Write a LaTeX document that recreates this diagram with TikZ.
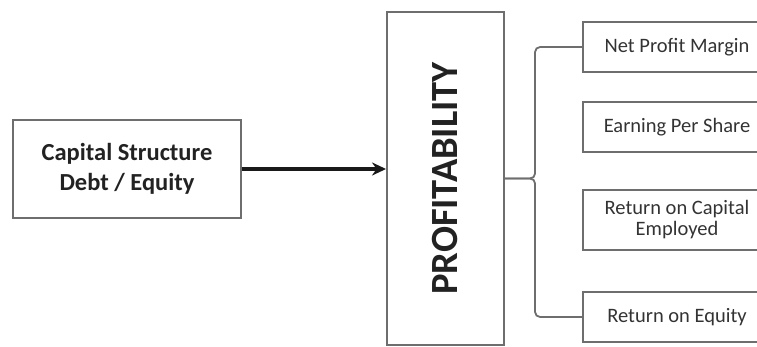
\documentclass[tikz,border=0pt]{standalone}
\usepackage{fontspec}
\setmainfont{Carlito}
\usetikzlibrary{arrows.meta}
\definecolor{frame}{HTML}{6E6E6E}
\definecolor{ink}{HTML}{222222}
\definecolor{soft}{HTML}{333333}
\tikzset{
  box/.style={draw=frame, line width=1.9pt, align=center, text=ink, inner sep=0pt},
  ratio/.style={box, minimum width=188pt, minimum height=50pt, text=soft, font=\fontsize{20.5}{21}\selectfont},
  brace/.style={draw=frame, line width=1.8pt, rounded corners=5pt},
}

\begin{document}
\begin{tikzpicture}[x=1pt, y=-1pt]
\clip (0,0) rectangle (757,347);
% driver
\node[box, minimum width=228pt, minimum height=98pt, font=\bfseries\fontsize{24.5}{30}\selectfont] (cap) at (127,169) {Capital Structure\\Debt / Equity};
% outcome
\node[box, minimum width=117pt, minimum height=333pt] (prof) at (445.5,178.5) {};
\node[rotate=90, text=ink, font=\bfseries\fontsize{38.5}{38}\selectfont] (proflbl) at (prof.center) {PROFITABILITY};
% measures
\node[ratio] (net) at (677,47) {Net Profit Margin};
\node[ratio] (eps) at (677,127) {Earning Per Share};
\node[ratio, minimum height=60pt] (roce) at (677,220) {Return on Capital\\Employed};
\node[ratio] (roe) at (677,317) {Return on Equity};
\draw[-{Stealth[length=14pt, width=13pt]}, line width=3.2pt, draw=black!90] (cap.east) -- (cap.east -| prof.west);
\draw[brace] (net.west) -- ++(-47,0) |- (prof.east);
\draw[brace] (roe.west) -- ++(-47,0) |- (prof.east);
\end{tikzpicture}
\end{document}
